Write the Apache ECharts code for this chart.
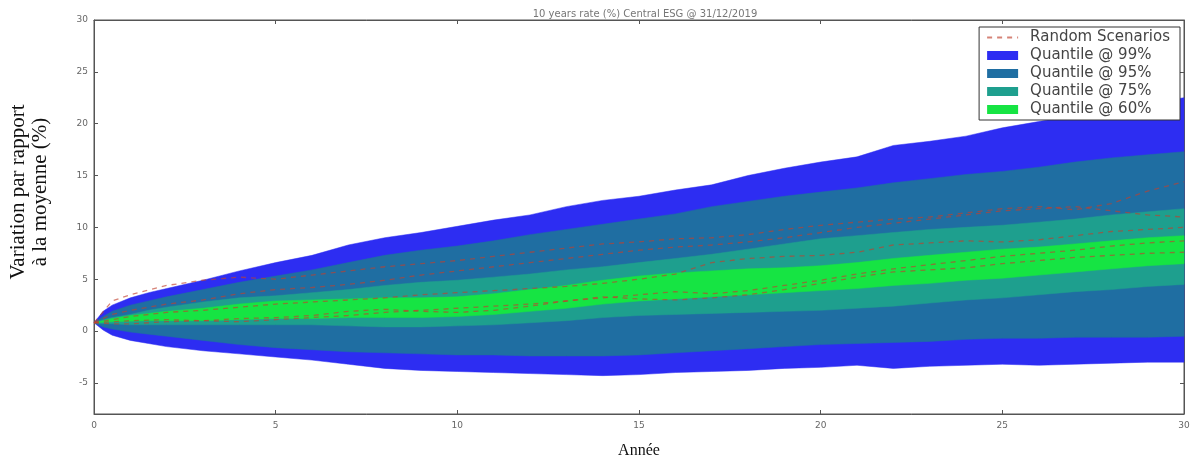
<!DOCTYPE html>
<html>
<head>
<meta charset="utf-8">
<script src="https://cdn.jsdelivr.net/npm/echarts@6/dist/echarts.min.js"></script>
<style>
  html, body { margin: 0; padding: 0; background: #fff; }
  #main { width: 1195px; height: 464px; }
</style>
</head>
<body>
<div id="main"></div>
<script>
// années des bandes de quantiles
const years = [0, 0.25, 0.5, 1, 1.5, 2, 3, 4, 5, 6, 7, 8, 9, 10, 11, 12, 13, 14, 15, 16, 17, 18, 19, 20, 21, 22, 23, 24, 25, 26, 27, 28, 29, 30]
const q99Hi = [0.8, 1.9, 2.5, 3.2, 3.7, 4.1, 4.9, 5.8, 6.6, 7.3, 8.3, 9.0, 9.5, 10.1, 10.7, 11.2, 12.0, 12.6, 13.0, 13.6, 14.1, 15.0, 15.7, 16.3, 16.8, 17.9, 18.3, 18.8, 19.6, 20.2, 20.8, 21.5, 22.0, 22.5]
const q99Lo = [0.8, 0.1, -0.4, -0.9, -1.2, -1.5, -1.9, -2.2, -2.5, -2.8, -3.2, -3.6, -3.8, -3.9, -4.0, -4.1, -4.2, -4.3, -4.2, -4.0, -3.9, -3.8, -3.6, -3.5, -3.3, -3.6, -3.4, -3.3, -3.2, -3.3, -3.2, -3.1, -3.0, -3.0]
const q95Hi = [0.8, 1.4, 1.9, 2.5, 2.9, 3.3, 4.0, 4.7, 5.3, 5.9, 6.6, 7.3, 7.8, 8.2, 8.7, 9.3, 9.8, 10.3, 10.8, 11.3, 12.0, 12.5, 13.0, 13.4, 13.8, 14.3, 14.7, 15.1, 15.4, 15.8, 16.3, 16.7, 17.0, 17.3]
const q95Lo = [0.8, 0.4, 0.2, -0.1, -0.3, -0.5, -0.9, -1.3, -1.6, -1.8, -2.0, -2.1, -2.2, -2.3, -2.3, -2.4, -2.4, -2.4, -2.3, -2.1, -1.9, -1.7, -1.5, -1.3, -1.2, -1.1, -1.0, -0.8, -0.7, -0.7, -0.6, -0.6, -0.6, -0.5]
const q75Hi = [0.8, 1.1, 1.3, 1.6, 2.0, 2.3, 2.8, 3.2, 3.4, 3.7, 4.0, 4.4, 4.7, 4.9, 5.2, 5.5, 5.9, 6.2, 6.6, 7.0, 7.4, 7.9, 8.4, 8.9, 9.2, 9.5, 9.8, 10.0, 10.2, 10.5, 10.8, 11.2, 11.5, 11.8]
const q75Lo = [0.8, 0.7, 0.7, 0.6, 0.6, 0.6, 0.6, 0.6, 0.6, 0.6, 0.5, 0.4, 0.4, 0.5, 0.6, 0.8, 1.0, 1.3, 1.5, 1.6, 1.7, 1.8, 1.9, 2.0, 2.2, 2.4, 2.7, 3.0, 3.2, 3.5, 3.8, 4.0, 4.3, 4.5]
const q60Hi = [0.8, 1.0, 1.2, 1.5, 1.7, 1.9, 2.2, 2.6, 2.9, 3.0, 3.1, 3.2, 3.2, 3.3, 3.6, 4.0, 4.4, 4.9, 5.3, 5.6, 5.8, 6.0, 6.1, 6.3, 6.6, 7.0, 7.3, 7.6, 7.9, 8.1, 8.4, 8.7, 9.0, 9.2]
const q60Lo = [0.8, 0.85, 0.9, 0.95, 1.0, 1.0, 1.0, 1.1, 1.2, 1.2, 1.3, 1.3, 1.3, 1.4, 1.6, 1.9, 2.2, 2.6, 2.9, 3.1, 3.3, 3.5, 3.7, 3.9, 4.1, 4.4, 4.6, 4.9, 5.1, 5.4, 5.7, 6.0, 6.3, 6.5]

// scénarios aléatoires
const scenYears = [0, 0.5, 1, 2, 3, 4, 5, 6, 7, 8, 9, 10, 11, 12, 13, 14, 15, 16, 17, 18, 19, 20, 21, 22, 23, 24, 25, 26, 27, 28, 29, 30]
const scen1 = [0.8, 2.9, 3.5, 4.4, 4.9, 5.2, 5.0, 5.4, 5.8, 6.2, 6.5, 6.8, 7.2, 7.6, 8.0, 8.4, 8.6, 8.9, 9.0, 9.3, 9.8, 10.2, 10.5, 10.8, 11.0, 11.4, 11.8, 12.0, 11.7, 12.3, 13.5, 14.4]
const scen2 = [0.8, 0.9, 1.0, 1.1, 1.0, 1.2, 1.3, 1.5, 1.9, 2.1, 1.9, 1.8, 2.0, 2.4, 2.9, 3.3, 3.1, 3.0, 3.2, 3.5, 4.0, 4.6, 5.2, 5.7, 5.9, 6.1, 6.5, 6.8, 7.1, 7.3, 7.5, 7.6]
const scen3 = [0.8, 1.1, 1.4, 1.8, 2.0, 2.3, 2.6, 2.8, 3.0, 3.2, 3.5, 3.7, 3.9, 4.1, 4.3, 4.6, 5.0, 5.5, 6.6, 7.0, 7.2, 7.3, 7.6, 8.3, 8.5, 8.7, 8.6, 8.8, 9.2, 9.6, 9.8, 10.0]
const scen4 = [0.8, 0.7, 0.7, 0.9, 1.0, 0.9, 1.1, 1.3, 1.5, 1.8, 2.0, 2.2, 2.4, 2.6, 2.9, 3.2, 3.5, 3.8, 3.6, 3.9, 4.4, 4.9, 5.5, 6.0, 6.4, 6.8, 7.2, 7.5, 7.8, 8.2, 8.5, 8.7]
const scen5 = [0.8, 1.6, 2.0, 2.6, 3.0, 3.6, 4.0, 4.2, 4.5, 4.9, 5.4, 5.8, 6.2, 6.6, 7.0, 7.4, 7.8, 8.1, 8.3, 8.6, 9.0, 9.5, 10.0, 10.4, 10.8, 11.2, 11.6, 11.8, 12.0, 11.6, 11.2, 11.0]

const yTicks = [-5, 0, 5, 10, 15, 20, 25, 30]

const chart = echarts.init(document.getElementById('main'))

function zip(xs, ys) {
  return xs.map((x, i) => [x, ys[i]])
}

// bande de quantile : un polygone (bord haut puis bord bas à rebours)
function band(name, lo, hi, color) {
  return {
    name,
    type: 'custom',
    silent: true,
    itemStyle: { color },
    encode: { x: 0, y: [1, 2] },
    data: years.map((x, i) => [x, lo[i], hi[i]]),
    renderItem(params, api) {
      if (params.dataIndexInside !== 0)
        return null
      const n = params.dataInsideLength
      const top = []
      const bottom = []
      for (let i = 0; i < n; i++) {
        top.push(api.coord([api.value(0, i), api.value(2, i)]))
        bottom.push(api.coord([api.value(0, i), api.value(1, i)]))
      }
      return {
        type: 'polygon',
        shape: { points: top.concat(bottom.reverse()) },
        style: { fill: color, stroke: color, lineWidth: 0.5 },
      }
    },
  }
}

const scenStyle = {
  type: 'line',
  name: 'Random Scenarios',
  symbol: 'none',
  silent: true,
  itemStyle: { color: '#e0402a' },
  lineStyle: { color: '#c0402e', width: 1.3, type: [5, 5], opacity: 0.65 },
}

const axisCommon = {
  axisLine: { show: true, onZero: false, lineStyle: { color: '#555', width: 1 } },
  axisTick: { show: true, inside: true, length: 4, lineStyle: { color: '#555' } },
  splitLine: { show: false },
}

chart.setOption({
  animation: false,
  title: {
    text: '10 years rate (%) Central ESG @ 31/12/2019',
    left: 640,
    textAlign: 'center',
    top: 4,
    textStyle: { fontSize: 10, fontWeight: 'normal', color: '#777', fontFamily: 'DejaVu Sans' },
  },
  grid: { left: 94, right: 11, top: 20, bottom: 49, show: true, borderColor: '#555', borderWidth: 1 },
  legend: {
    right: 15,
    top: 27,
    orient: 'vertical',
    padding: [3, 10, 3, 7],
    itemGap: 3,
    itemWidth: 31,
    itemHeight: 9,
    backgroundColor: '#fff',
    borderColor: '#333',
    borderWidth: 1,
    borderRadius: 0,
    textStyle: { fontSize: 15, lineHeight: 15, color: '#444', fontFamily: 'DejaVu Sans', padding: [0, 0, 0, 7] },
    data: [
      { name: 'Random Scenarios', itemStyle: { opacity: 0 } },
      { name: 'Quantile @ 99%', icon: 'rect' },
      { name: 'Quantile @ 95%', icon: 'rect' },
      { name: 'Quantile @ 75%', icon: 'rect' },
      { name: 'Quantile @ 60%', icon: 'rect' },
    ],
  },
  xAxis: [
    {
      type: 'value',
      min: 0,
      max: 30,
      interval: 5,
      ...axisCommon,
      axisLabel: { color: '#666', fontSize: 9, margin: 7, fontFamily: 'DejaVu Sans' },
      name: 'Année',
      nameLocation: 'middle',
      nameGap: 29,
      nameTextStyle: { fontSize: 16, color: '#111', fontFamily: 'Liberation Serif' },
    },
    {
      type: 'value',
      position: 'top',
      min: 0,
      max: 30,
      interval: 5,
      ...axisCommon,
      axisLabel: { show: false },
    },
  ],
  yAxis: [
    {
      type: 'value',
      min: -8,
      max: 30,
      ...axisCommon,
      axisTick: { show: true, inside: true, length: 4, lineStyle: { color: '#555' }, customValues: yTicks },
      axisLabel: { color: '#666', fontSize: 9, margin: 6, fontFamily: 'DejaVu Sans', customValues: yTicks },
    },
    {
      type: 'value',
      position: 'right',
      min: -8,
      max: 30,
      ...axisCommon,
      axisTick: { show: true, inside: true, length: 4, lineStyle: { color: '#555' }, customValues: yTicks },
      axisLabel: { show: false, customValues: yTicks },
    },
  ],
  graphic: [
    {
      type: 'text',
      x: 29,
      y: 192,
      rotation: Math.PI / 2,
      style: {
        text: 'Variation par rapport\nà la moyenne (%)',
        font: '21px "Liberation Serif"',
        fill: '#111',
        align: 'center',
        verticalAlign: 'middle',
        lineHeight: 22,
      },
    },
  ],
  series: [
    band('Quantile @ 99%', q99Lo, q99Hi, '#2d2df2'),
    band('Quantile @ 95%', q95Lo, q95Hi, '#1f6ea2'),
    band('Quantile @ 75%', q75Lo, q75Hi, '#1e9f8e'),
    band('Quantile @ 60%', q60Lo, q60Hi, '#16e443'),
    { ...scenStyle, data: zip(scenYears, scen1) },
    { ...scenStyle, data: zip(scenYears, scen2) },
    { ...scenStyle, data: zip(scenYears, scen3) },
    { ...scenStyle, data: zip(scenYears, scen4) },
    { ...scenStyle, data: zip(scenYears, scen5) },
  ],
})
</script>
</body>
</html>
